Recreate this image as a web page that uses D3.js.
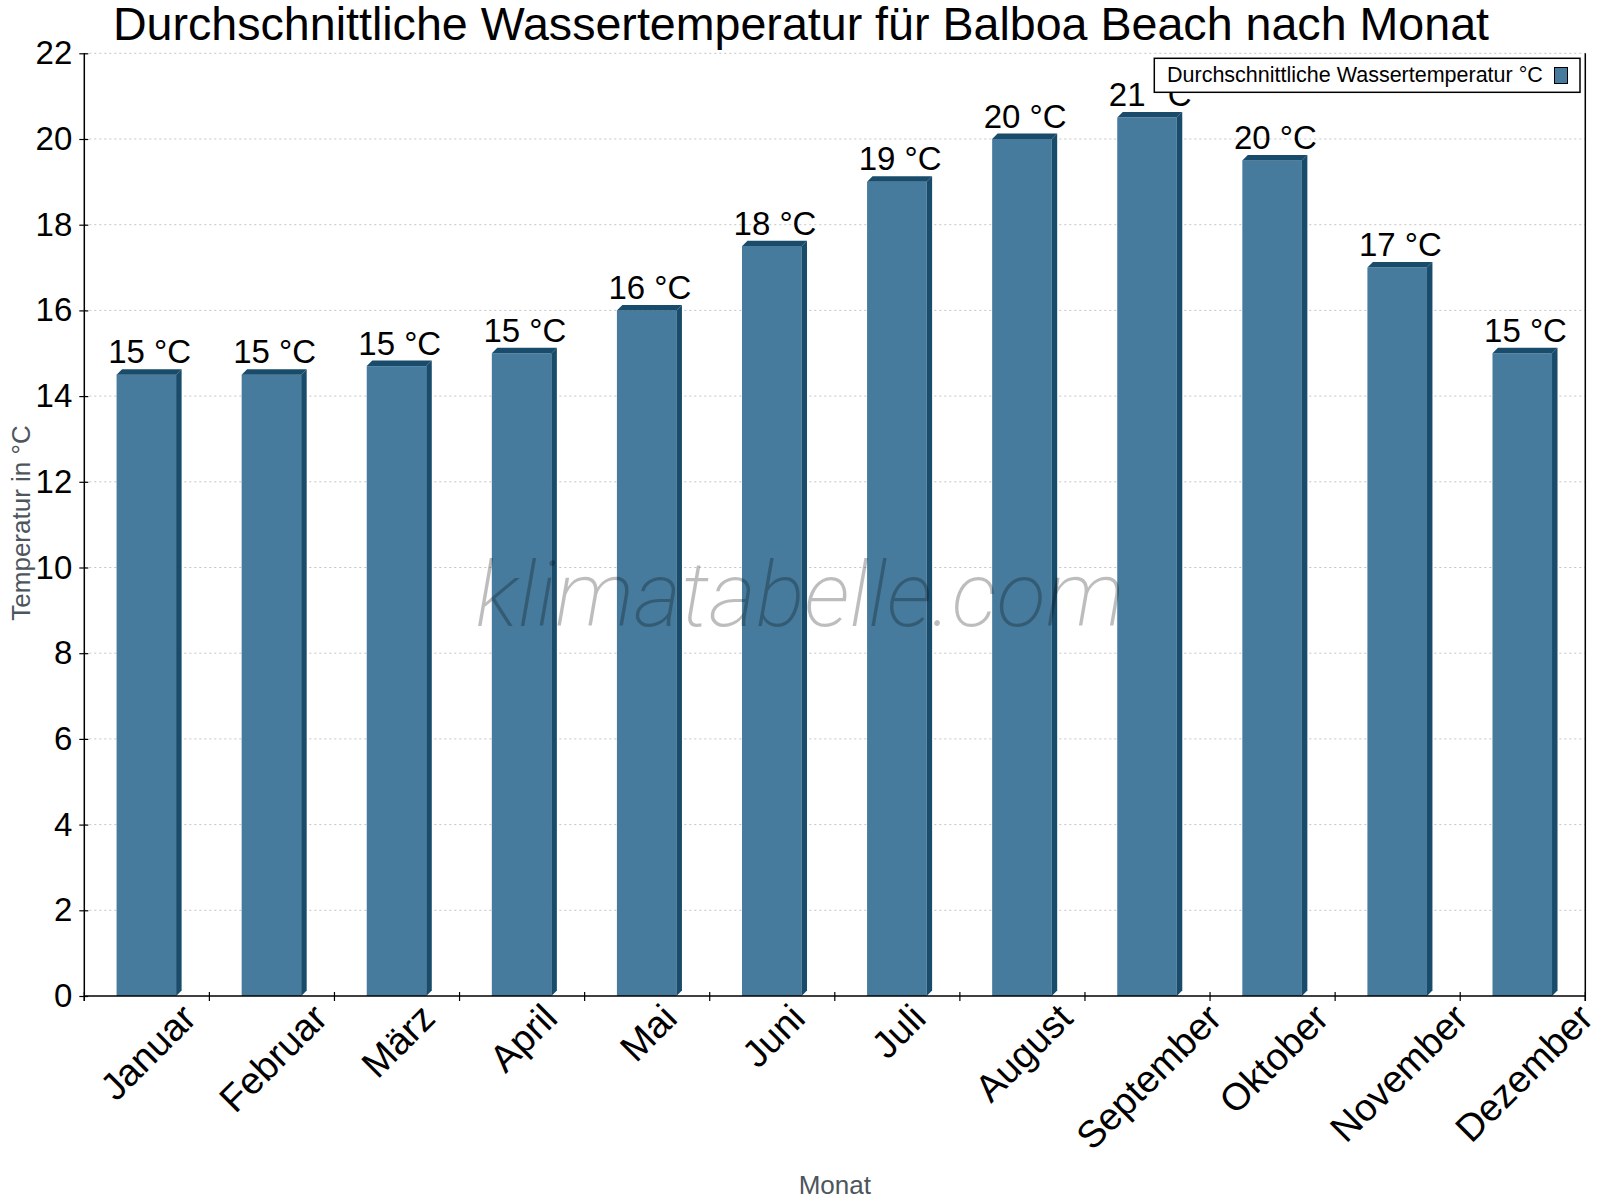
<!DOCTYPE html>
<html>
<head>
<meta charset="utf-8">
<script src="https://cdn.jsdelivr.net/npm/d3@7"></script>
<style>
  body { margin: 0; background: #fff; }
  svg { display: block; font-family: "Liberation Sans", Arial, sans-serif; }
</style>
</head>
<body>
<svg id="chart" width="1600" height="1200"></svg>
<script>
// Data
const months = ["Januar", "Februar", "März", "April", "Mai", "Juni", "Juli",
                "August", "September", "Oktober", "November", "Dezember"];
const waterTemp = [14.5, 14.5, 14.7, 15.0, 16.0, 17.5, 19.0, 20.0, 20.5, 19.5, 17.0, 15.0];
const yTicks = [0, 2, 4, 6, 8, 10, 12, 14, 16, 18, 20, 22];

const titleText = "Durchschnittliche Wassertemperatur für Balboa Beach nach Monat";
const legendText = "Durchschnittliche Wassertemperatur °C";

const frontColor = "#467b9d";
const darkColor = "#194b6b";
const depth = 5.5;

const svg = d3.select("#chart");

// plot area
const plotL = 84.3, plotR = 1585.3, plotT = 53.3, plotB = 996;

const x = d3.scaleBand().domain(months).range([plotL, plotR]);
const y = d3.scaleLinear().domain([0, 22]).range([plotB, plotT]);

const bw = x.bandwidth();
const barW = bw * 0.476;
const barX = m => x(m) + (bw - barW) / 2 - 0.5;

// gridlines
svg.append("g")
  .selectAll("line")
  .data(yTicks.filter(d => d > 0))
  .join("line")
    .attr("x1", plotL).attr("x2", plotR)
    .attr("y1", d => y(d)).attr("y2", d => y(d))
    .attr("stroke", "#c4c4c4")
    .attr("stroke-width", 1)
    .attr("stroke-dasharray", "2,3");

// bars with a small 3D edge
const bars = svg.append("g")
  .selectAll("g")
  .data(months.map((m, i) => ({month: m, value: waterTemp[i]})))
  .join("g");

bars.append("rect")
  .attr("x", d => barX(d.month))
  .attr("y", d => y(d.value))
  .attr("width", barW)
  .attr("height", d => plotB - y(d.value))
  .attr("fill", frontColor);

// top face
bars.append("path")
  .attr("fill", darkColor)
  .attr("d", d => {
    const x0 = barX(d.month), x1 = x0 + barW, yt = y(d.value);
    return `M${x0},${yt}L${x0 + depth},${yt - depth}L${x1 + depth},${yt - depth}L${x1},${yt}Z`;
  });

// side face
bars.append("path")
  .attr("fill", darkColor)
  .attr("d", d => {
    const x1 = barX(d.month) + barW, yt = y(d.value);
    return `M${x1},${yt}L${x1 + depth},${yt - depth}L${x1 + depth},${plotB - depth}L${x1},${plotB}Z`;
  });

// value labels
bars.append("text")
  .attr("x", d => x(d.month) + bw / 2 + depth / 2)
  .attr("y", d => y(d.value) - depth - 6)
  .attr("text-anchor", "middle")
  .style("font-size", "33px")
  .attr("fill", "#000")
  .text(d => Math.round(d.value) + " °C");

// watermark, semi-transparent over the bars
svg.append("text")
  .attr("x", 800).attr("y", 626)
  .attr("text-anchor", "middle")
  .style("font-family", "Roboto, 'Open Sans', sans-serif")
  .style("font-style", "italic")
  .style("font-weight", 200)
  .style("font-size", "91px")
  .attr("fill", "rgba(0,0,0,0.26)")
  .text("klimatabelle.com");

// y axis
const yAxis = d3.axisLeft(y).tickValues(yTicks).tickSize(5).tickPadding(7).tickFormat(d3.format("d"));
const yAxisG = svg.append("g").attr("transform", `translate(${plotL},0)`).call(yAxis);
yAxisG.select(".domain").attr("stroke", "#000").attr("stroke-width", 1.5)
  .attr("d", `M0,${plotT}V${plotB + 5}`);
yAxisG.selectAll(".tick line").attr("stroke", "#000").attr("x1", 4).attr("stroke-width", 1.2);
yAxisG.selectAll(".tick text")
  .style("font-size", "33px")
  .style("font-family", "'Liberation Sans', Arial, sans-serif")
  .attr("fill", "#000");

// right border
svg.append("line")
  .attr("x1", plotR).attr("x2", plotR)
  .attr("y1", plotT).attr("y2", plotB + 5)
  .attr("stroke", "#000").attr("stroke-width", 1.5);

// x axis line and boundary ticks
svg.append("line")
  .attr("x1", plotL).attr("x2", plotR)
  .attr("y1", plotB).attr("y2", plotB)
  .attr("stroke", "#000").attr("stroke-width", 1.5);

svg.append("g")
  .selectAll("line")
  .data(d3.range(months.length + 1))
  .join("line")
    .attr("x1", i => plotL + i * bw).attr("x2", i => plotL + i * bw)
    .attr("y1", plotB - 4).attr("y2", plotB + 5)
    .attr("stroke", "#000").attr("stroke-width", 1.2);

// rotated month labels, centred under each bar
const xLabels = svg.append("g")
  .selectAll("text")
  .data(months)
  .join("text")
    .attr("text-anchor", "middle")
    .attr("dy", "0.35em")
    .style("font-size", "38px")
    .attr("fill", "#000")
    .text(d => d);

xLabels.each(function(d) {
  const w = this.getComputedTextLength();
  const cx = x(d) + bw / 2 + 1;
  const cy = 1011 + 0.3535 * w;
  d3.select(this)
    .attr("x", cx).attr("y", cy)
    .attr("transform", `rotate(-45,${cx},${cy})`);
});

// axis titles
svg.append("text")
  .attr("transform", "translate(30,523) rotate(-90)")
  .attr("text-anchor", "middle")
  .style("font-size", "26px")
  .attr("fill", "#4d555d")
  .text("Temperatur in °C");

svg.append("text")
  .attr("x", (plotL + plotR) / 2).attr("y", 1194)
  .attr("text-anchor", "middle")
  .style("font-size", "26px")
  .attr("fill", "#4d555d")
  .text("Monat");

// title
svg.append("text")
  .attr("x", 801).attr("y", 39.5)
  .attr("text-anchor", "middle")
  .style("font-size", "46.6px")
  .attr("fill", "#000")
  .text(titleText);

// legend (drawn last, it covers part of the September label)
const legend = svg.append("g");
legend.append("rect")
  .attr("x", 1154.3).attr("y", 58.3)
  .attr("width", 425.7).attr("height", 34)
  .attr("fill", "#fff").attr("stroke", "#000").attr("stroke-width", 1.5);
legend.append("text")
  .attr("x", 1167).attr("y", 81.5)
  .style("font-size", "21.5px")
  .attr("fill", "#000")
  .text(legendText);
legend.append("rect")
  .attr("x", 1554.5).attr("y", 67.5)
  .attr("width", 13).attr("height", 16)
  .attr("fill", frontColor).attr("stroke", "#000").attr("stroke-width", 1);
</script>
</body>
</html>
